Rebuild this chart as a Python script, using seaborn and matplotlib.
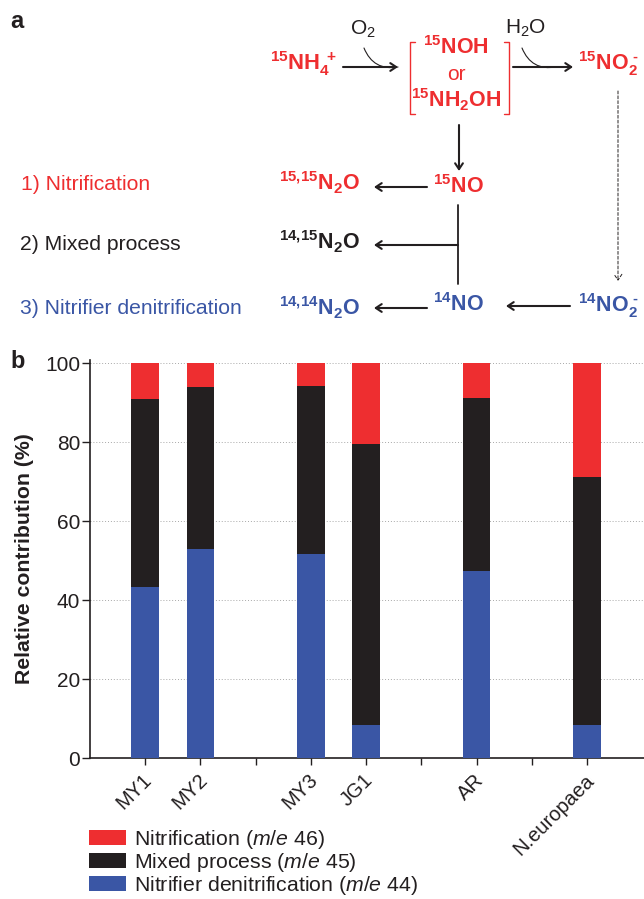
#!/usr/bin/env python
import pandas as pd
import matplotlib
matplotlib.use('Agg')
import matplotlib.pyplot as plt
import matplotlib.transforms as mtrans
import seaborn as sns

# values
strains = ['MY1', 'MY2', 'MY3', 'JG1', 'AR', 'N.europaea']
denitrification = [43.3, 53.0, 51.7, 8.3, 47.4, 8.3]
mixed = [47.7, 41.0, 42.6, 71.3, 43.9, 63.0]
nitrification = [9.0, 6.0, 5.7, 20.4, 8.7, 28.7]
slots = ['MY1', 'MY2', ' ', 'MY3', 'JG1', '  ', 'AR', '   ', 'N.europaea']
y_ticks = [0, 20, 40, 60, 80, 100]
legend_labels = [r'Nitrification ($\it{m/e}$ 46)',
                 r'Mixed process ($\it{m/e}$ 45)',
                 r'Nitrifier denitrification ($\it{m/e}$ 44)']

RED = '#ee2e30'
BLACK = '#231f20'
BLUE = '#3a56a5'

sns.set_theme(style='ticks')
plt.rcParams['font.family'] = ['Liberation Sans', 'DejaVu Sans']
plt.rcParams['mathtext.fontset'] = 'custom'
plt.rcParams['mathtext.rm'] = 'Liberation Sans'
plt.rcParams['mathtext.bf'] = 'Liberation Sans:bold'
plt.rcParams['mathtext.it'] = 'Liberation Sans:italic'
plt.rcParams['mathtext.default'] = 'regular'

W, H = 644, 899
fig = plt.figure(figsize=(W / 100, H / 100), dpi=100)

# panel b
ax = fig.add_axes([90 / W, 1 - 758 / H, (W - 90) / W, (758 - 359.5) / H])
df = pd.DataFrame({'strain': strains, 'den': denitrification, 'mix': mixed, 'nit': nitrification})
df['den_mix'] = df['den'] + df['mix']
df['total'] = df['den_mix'] + df['nit']

for col, colour in [('total', RED), ('den_mix', BLACK), ('den', BLUE)]:
    sns.barplot(data=df, x='strain', y=col, order=slots, color=colour, width=0.5,
                saturation=1, errorbar=None, ax=ax, zorder=3, linewidth=0, edgecolor='none')

ax.set_xlim(-1, 9.03)
ax.set_ylim(0, 101)
ax.set_yticks(y_ticks)
ax.grid(axis='y', linestyle=(0, (1, 2)), color='#a8a8a8', linewidth=0.7, zorder=0)
ax.set_axisbelow(True)
ax.set_xlabel('')
ax.set_ylabel('Relative contribution (%)', fontsize=15.3, fontweight='bold', color=BLACK, labelpad=8)
ax.tick_params(axis='y', labelsize=15, labelcolor=BLACK, length=5.5, width=1, color=BLACK, pad=1.5)
ax.tick_params(axis='x', labelsize=14.5, labelcolor=BLACK, length=5, width=1, color=BLACK, pad=4)
plt.setp(ax.get_xticklabels(), rotation=45, ha='right', va='top', rotation_mode='anchor')
# rotated labels sit a little left of their ticks
shift = mtrans.ScaledTranslation(-3 / 100, 0, fig.dpi_scale_trans)
for lab in ax.get_xticklabels():
    lab.set_transform(lab.get_transform() + shift)
for side in ['top', 'right']:
    ax.spines[side].set_visible(False)
for side in ['left', 'bottom']:
    ax.spines[side].set_linewidth(1.2)
    ax.spines[side].set_color(BLACK)

handles = [ax.containers[0], ax.containers[1], ax.containers[2]]
fig.legend(handles, legend_labels, loc='upper left', bbox_to_anchor=(89 / W, 1 - 828 / H),
           frameon=False, fontsize=15.3, labelcolor=BLACK, handlelength=1.74, handleheight=0.7,
           handletextpad=0.4, labelspacing=0.0, borderpad=0, borderaxespad=0)

# panel a scheme, drawn in picture pixels
sch = fig.add_axes([0, 0, 1, 1], zorder=5)
sch.set_xlim(0, W)
sch.set_ylim(H, 0)
sch.axis('off')
sch.patch.set_alpha(0)


def label(x, y, s, colour=BLACK, size=15.2, ha='center', weight='normal'):
    sch.text(x, y, s, color=colour, fontsize=size, ha=ha, va='center', fontweight=weight)


def arrow(x0, y0, x1, y1, lw=1.5, style='-|>', ls='-', conn=None, ms=9):
    sch.annotate('', xy=(x1, y1), xytext=(x0, y0),
                 arrowprops=dict(arrowstyle='->,head_length=0.3,head_width=0.2' if style == '-|>' else style,
                                 color=BLACK, lw=lw, linestyle=ls, shrinkA=0, shrinkB=0,
                                 connectionstyle=conn or 'arc3', mutation_scale=ms + 5))


label(10, 22, 'a', size=17, ha='left', weight='bold')
label(10, 362, 'b', size=17, ha='left', weight='bold')

label(304, 64, r'$\mathbf{^{15}NH_4^{\ +}}$', RED, 15.8)
label(456, 48, r'$\mathbf{^{15}NOH}$', RED, 15.5)
label(456, 74, 'or', RED, 15)
label(456, 100, r'$\mathbf{^{15}NH_2OH}$', RED, 15.5)
label(608, 64, '$\\mathbf{^{15}NO_2^{\\ \u2010}}$', RED, 15.5)
label(363, 29, r'$O_2$', BLACK, 15)
label(526, 28, r'$H_2O$', BLACK, 15)
label(458, 187, r'$\mathbf{^{15}NO}$', RED, 15.5)
label(458, 305, r'$\mathbf{^{14}NO}$', BLUE, 15.5)
label(608, 306, '$\\mathbf{^{14}NO_2^{\\ \u2010}}$', BLUE, 15.5)
label(360, 183, r'$\mathbf{^{15{,}15}N_2O}$', RED, 15.5, ha='right')
label(360, 242, r'$\mathbf{^{14{,}15}N_2O}$', BLACK, 15.5, ha='right')
label(360, 308, r'$\mathbf{^{14{,}14}N_2O}$', BLUE, 15.5, ha='right')
label(21, 185, '1) Nitrification', RED, 15.2, ha='left')
label(20, 245, '2) Mixed process', BLACK, 15.2, ha='left')
label(20, 309, '3) Nitrifier denitrification', BLUE, 15.2, ha='left')

# brackets round the intermediates
sch.plot([415, 410, 410, 415], [42, 42, 114, 114], color=RED, lw=1)
sch.plot([504, 509, 509, 504], [42, 42, 114, 114], color=RED, lw=1)

arrow(343, 67, 398, 67)
arrow(513, 67, 573, 67)
arrow(364, 48, 398, 67, lw=0.8, style='-', conn='arc3,rad=0.4')
arrow(522, 48, 556, 67, lw=0.8, style='-', conn='arc3,rad=0.4')
arrow(459, 125, 459, 171)
arrow(427, 187, 374, 187)
arrow(458, 245, 374, 245)
arrow(427, 308, 374, 308)
arrow(570, 306, 506, 306)
sch.plot([458, 458], [205, 284], color=BLACK, lw=1.3)
arrow(618, 91, 618, 281, lw=0.7, ls=(0, (3, 2)))

fig.savefig('out.png', dpi=100)
